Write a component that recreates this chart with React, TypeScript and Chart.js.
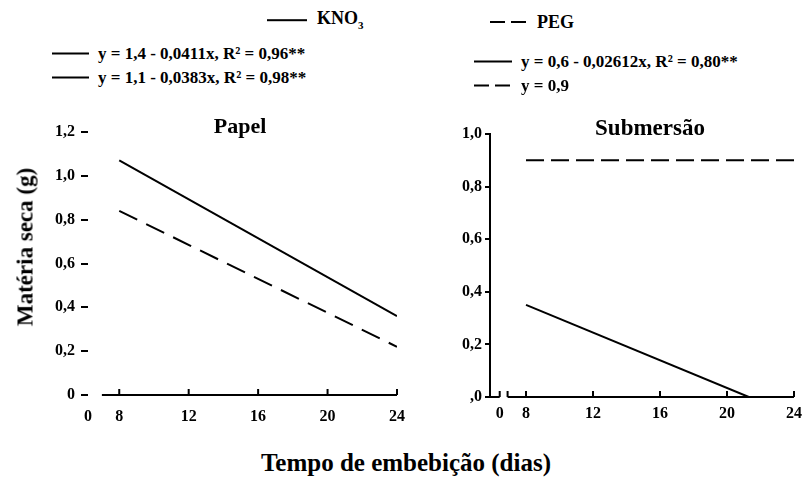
import React, { useEffect, useRef } from "react";
import { Chart, registerables } from "chart.js";

Chart.register(...registerables);

// ---- data ----
const papelDays = [8, 24];
const papelKNO3 = [1.07, 0.36];
const papelPEG = [0.84, 0.22];
const subDaysKNO3 = [8, 21.3];
const subKNO3 = [0.35, 0];
const subDaysPEG = [8, 24];
const subPEG = [0.9, 0.9];
const xTickValues = [8, 12, 16, 20, 24];
const breakLabel = "0";
const papelYMax = 1.2;
const subYMax = 1.0;
const yStep = 0.2;
const legendTop = ["KNO", "PEG"];
const papelEquations = ["y = 1,4 - 0,0411x, R² = 0,96**", "y = 1,1 - 0,0383x, R² = 0,98**"];
const subEquations = ["y = 0,6 - 0,02612x, R² = 0,80**", "y = 0,9"];
const panelTitles = ["Papel", "Submersão"];
const xTitle = "Tempo de embebição (dias)";
const yTitle = "Matéria seca (g)";

const FONT = "'Liberation Serif', 'Times New Roman', serif";

const brokenAxis = {
  id: "brokenAxis",
  afterDraw(chart: any, _args: any, opts: any) {
    const { ctx } = chart;
    const x = chart.scales.x;
    const y0 = chart.chartArea.bottom;
    ctx.save();
    ctx.strokeStyle = "#000";
    ctx.lineWidth = 2;
    ctx.beginPath();
    for (const [a, b] of opts.segments) {
      ctx.moveTo(x.getPixelForValue(a), y0);
      ctx.lineTo(x.getPixelForValue(b), y0);
    }
    for (const m of opts.marks) {
      const px = x.getPixelForValue(m);
      ctx.moveTo(px, y0);
      ctx.lineTo(px, y0 - opts.markLength);
    }
    ctx.stroke();
    ctx.restore();
  },
};

const fmt = (zero: string) => (v: any) => {
  const n = Number(v);
  if (Math.abs(n) < 1e-9) return zero;
  return n.toFixed(1).replace(".", ",");
};

function makeConfig(p: any) {
  return {
    type: "line",
    data: { datasets: p.datasets },
    plugins: [brokenAxis],
    options: {
      animation: false,
      responsive: false,
      events: [],
      layout: { padding: { left: 0, right: p.padRight, top: p.padTop, bottom: 0 } },
      plugins: {
        legend: { display: false },
        tooltip: { enabled: false },
        brokenAxis: { segments: p.segments, marks: p.marks, markLength: 6 },
      },
      scales: {
        x: {
          type: "linear",
          min: p.xMin,
          max: 24,
          border: { display: false },
          grid: { display: false, drawTicks: false },
          afterBuildTicks: (s: any) => {
            s.ticks = [{ value: p.breakAt }, ...xTickValues.map((v) => ({ value: v }))];
          },
          ticks: {
            autoSkip: false,
            maxRotation: 0,
            padding: p.xPad,
            color: "#000",
            font: { family: FONT, size: 16, weight: "bold" },
            callback: (v: any) => (Math.abs(Number(v) - p.breakAt) < 1e-6 ? breakLabel : String(v)),
          },
          afterFit: (s: any) => {
            s.height = p.xHeight;
          },
        },
        y: {
          min: 0,
          max: p.yMax,
          border: { display: p.yBorder, color: "#000", width: 2 },
          grid: {
            display: true,
            drawOnChartArea: false,
            drawTicks: true,
            tickLength: p.yTickLen,
            color: "#000",
            lineWidth: 2,
          },
          ticks: {
            stepSize: yStep,
            padding: p.yPad,
            color: "#000",
            font: { family: FONT, size: 16, weight: "bold" },
            callback: fmt(p.zeroLabel),
          },
          afterFit: (s: any) => {
            s.width = p.yWidth;
          },
        },
      },
    },
  };
}

function line(xs: number[], ys: number[], dash: number[]) {
  return {
    data: xs.map((x, i) => ({ x, y: ys[i] })),
    borderColor: "#000",
    borderWidth: 2,
    borderDash: dash,
    pointRadius: 0,
    fill: false,
    tension: 0,
  };
}

function Sample({ dashed, width }: { dashed: boolean; width: number }) {
  return (
    <span
      style={{
        display: "inline-block",
        width,
        height: 2,
        verticalAlign: "middle",
        background: dashed
          ? "repeating-linear-gradient(to right, #000 0 15px, transparent 15px 21px)"
          : "#000",
      }}
    />
  );
}

const textBase: React.CSSProperties = {
  position: "absolute",
  fontFamily: FONT,
  fontWeight: "bold",
  color: "#000",
  whiteSpace: "nowrap",
  lineHeight: 1,
};

function LegendRow({ left, top, dashed, text, lineW, size = 17 }: any) {
  return (
    <div style={{ ...textBase, left, top, fontSize: size, transform: "translateY(-50%)", display: "flex", alignItems: "center" }}>
      <Sample dashed={dashed} width={lineW} />
      <span style={{ marginLeft: 9 }}>{text}</span>
    </div>
  );
}

export default function App() {
  const leftRef = useRef<HTMLCanvasElement>(null);
  const rightRef = useRef<HTMLCanvasElement>(null);

  useEffect(() => {
    const c1 = new Chart(
      leftRef.current as any,
      makeConfig({
        datasets: [line(papelDays, papelKNO3, []), line(papelDays, papelPEG, [20, 10])],
        padRight: 23,
        padTop: 32,
        xMin: 6.2,
        breakAt: 6.2,
        segments: [[7.0, 24]],
        marks: xTickValues,
        xPad: 12,
        xHeight: 45,
        yMax: papelYMax,
        yBorder: false,
        yTickLen: 7,
        yPad: 6,
        yWidth: 88,
        zeroLabel: "0",
      }) as any
    );
    const c2 = new Chart(
      rightRef.current as any,
      makeConfig({
        datasets: [line(subDaysKNO3, subKNO3, []), line(subDaysPEG, subPEG, [18, 7])],
        padRight: 9,
        padTop: 34,
        xMin: 5.85,
        breakAt: 6.43,
        segments: [
          [5.85, 6.43],
          [6.9, 24],
        ],
        marks: [6.43, 6.9, ...xTickValues],
        xPad: 7,
        xHeight: 43,
        yMax: subYMax,
        yBorder: true,
        yTickLen: 5,
        yPad: 3,
        yWidth: 90,
        zeroLabel: ",0",
      }) as any
    );
    return () => {
      c1.destroy();
      c2.destroy();
    };
  }, []);

  return (
    <div style={{ position: "fixed", left: 0, top: 0, width: 809, height: 478, background: "#fff", overflow: "hidden" }}>
      <canvas ref={leftRef} width={420} height={340} style={{ position: "absolute", left: 0, top: 100, width: 420, height: 340 }} />
      <canvas ref={rightRef} width={409} height={340} style={{ position: "absolute", left: 400, top: 100, width: 409, height: 340 }} />

      {/* top legend */}
      <div style={{ ...textBase, left: 267, top: 20, fontSize: 18, transform: "translateY(-50%)", display: "flex", alignItems: "center" }}>
        <Sample dashed={false} width={40} />
        <span style={{ marginLeft: 10 }}>
          {legendTop[0]}
          <sub style={{ fontSize: 11 }}>3</sub>
        </span>
      </div>
      <LegendRow left={490} top={22} dashed={true} text={legendTop[1]} lineW={38} size={18} />

      <LegendRow left={52} top={53} dashed={false} text={papelEquations[0]} lineW={37} />
      <LegendRow left={52} top={77} dashed={false} text={papelEquations[1]} lineW={37} />
      <LegendRow left={474} top={61} dashed={false} text={subEquations[0]} lineW={38} />
      <LegendRow left={474} top={85} dashed={true} text={subEquations[1]} lineW={38} />

      {/* panel titles */}
      <div style={{ ...textBase, left: 240, top: 126, fontSize: 22, transform: "translate(-50%, -50%)" }}>{panelTitles[0]}</div>
      <div style={{ ...textBase, left: 650, top: 127, fontSize: 23, transform: "translate(-50%, -50%)" }}>{panelTitles[1]}</div>

      {/* axis titles */}
      <div style={{ ...textBase, left: 406, top: 462, fontSize: 25, transform: "translate(-50%, -50%)" }}>{xTitle}</div>
      <div style={{ ...textBase, left: 25, top: 247, fontSize: 23, transform: "translate(-50%, -50%) rotate(-90deg)" }}>{yTitle}</div>
    </div>
  );
}
